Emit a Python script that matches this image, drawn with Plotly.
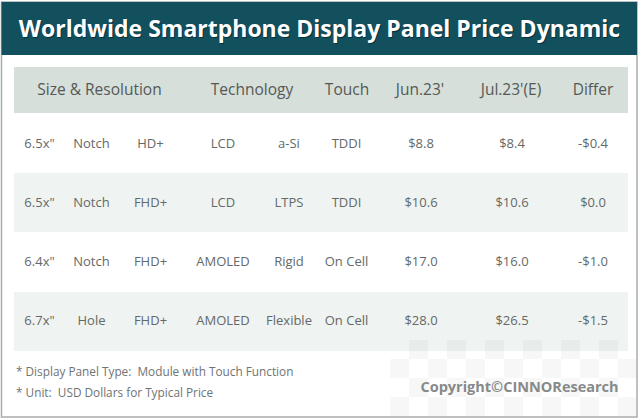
import plotly.graph_objects as go

title = "Worldwide Smartphone Display Panel Price Dynamic"
header_labels = ["Size &amp; Resolution", "Technology", "Touch", "Jun.23'", "Jul.23'(E)", "Differ"]
sizes = ['6.5x"', '6.5x"', '6.4x"', '6.7x"']
notches = ["Notch", "Notch", "Notch", "Hole"]
resolutions = ["HD+", "FHD+", "FHD+", "FHD+"]
panels = ["LCD", "LCD", "AMOLED", "AMOLED"]
backplanes = ["a-Si", "LTPS", "Rigid", "Flexible"]
touches = ["TDDI", "TDDI", "On Cell", "On Cell"]
jun_prices = ["$8.8", "$10.6", "$17.0", "$28.0"]
jul_prices = ["$8.4", "$10.6", "$16.0", "$26.5"]
differs = ["-$0.4", "$0.0", "-$1.0", "-$1.5"]
notes = ["* Display Panel Type:  Module with Touch Function", "* Unit:  USD Dollars for Typical Price"]
copyright_text = "Copyright©CINNOResearch"

FONT = "Open Sans"
TEXT = "#646968"
columns = [sizes, notches, resolutions, panels, backplanes, touches, jun_prices, jul_prices, differs]
col_x = [39.5, 91.5, 150.5, 223, 289, 346.5, 421, 512, 593]
row_y = [144.5, 203.5, 262.5, 321.5]
header_x = [99.5, 252, 347, 420, 511, 593]

fig = go.Figure()
shapes = []
def rect(x0, y0, x1, y1, fill, line=None, layer="below"):
    shapes.append(dict(type="rect", x0=x0, y0=y0, x1=x1, y1=y1, fillcolor=fill,
                       line=dict(color=line, width=1.5) if line else dict(width=0), layer=layer))

rect(1.5, 2, 637, 417, "white", "#a9adac")
rect(1.5, 2, 637, 55, "#12505e")
rect(14, 67, 628, 113, "#d6dfd9")
rect(14, 173, 628, 232, "#eff3f1")
rect(14, 292, 628, 351, "#eff3f1")

# watermark checkerboard
for r in range(4):
    for c in range(13):
        if (r + c) % 2 == 1:
            y0 = 340 + 19 * r
            x0 = 390 + 19 * c
            rect(x0, y0, min(x0 + 19, 636), min(y0 + 19, 416), "rgba(90,90,90,0.05)")

fig.add_trace(go.Scatter(x=[320.5], y=[32], mode="text", text=[title], hoverinfo="skip",
                         textfont=dict(family=FONT, size=23, color="#07303a", weight=700)))
fig.add_trace(go.Scatter(x=[319.5], y=[31], mode="text", text=[title], hoverinfo="skip",
                         textfont=dict(family=FONT, size=23, color="white", weight=700)))
fig.add_trace(go.Scatter(x=header_x, y=[91.5] * len(header_x), mode="text", text=header_labels, hoverinfo="skip",
                         textfont=dict(family=FONT, size=15.5, color="#545958")))
for x, col in zip(col_x, columns):
    fig.add_trace(go.Scatter(x=[x] * len(col), y=row_y, mode="text", text=col, hoverinfo="skip",
                             textfont=dict(family=FONT, size=13, color=TEXT)))
fig.add_trace(go.Scatter(x=[16, 16], y=[373.5, 394.5], mode="text", text=notes, textposition="middle right", hoverinfo="skip",
                         textfont=dict(family=FONT, size=11.8, color="#6f7372")))
fig.add_trace(go.Scatter(x=[519.5], y=[388], mode="text", text=[copyright_text], hoverinfo="skip",
                         textfont=dict(family=FONT, size=14.5, color="#868a89", weight=700)))

fig.update_layout(
    width=640, height=419, margin=dict(l=0, r=0, t=0, b=0),
    paper_bgcolor="white", plot_bgcolor="white", showlegend=False, shapes=shapes,
    xaxis=dict(range=[0, 640], visible=False, fixedrange=True),
    yaxis=dict(range=[419, 0], visible=False, fixedrange=True),
)
fig.write_html("out.html", config={"displayModeBar": False},
               post_script="document.body.style.margin='0';document.body.style.overflow='hidden';")
